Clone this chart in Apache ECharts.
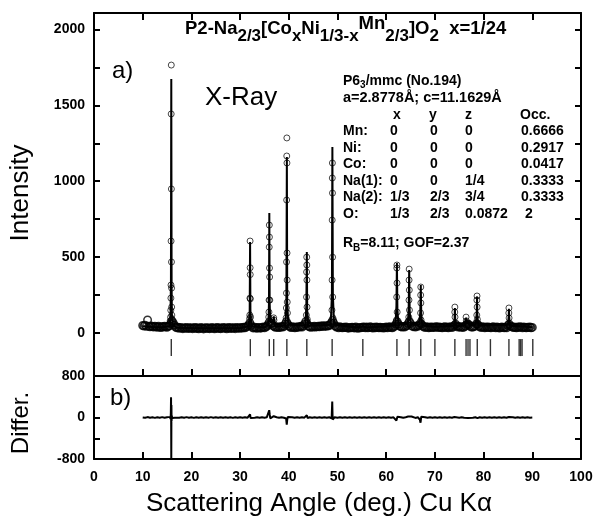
<!DOCTYPE html>
<html>
<head>
<meta charset="utf-8">
<script src="https://cdn.jsdelivr.net/npm/echarts@6/dist/echarts.min.js"></script>
<style>
html, body { margin: 0; padding: 0; background: #fff; }
#chart { width: 593px; height: 521px; }
</style>
</head>
<body>
<div id="chart"></div>
<script>
// observed background, read every 0.25 deg from 10 to 90
const bgStart = 10, bgStep = 0.25;
const obsBackground = [
  50,46,52,44,86,45,41,47,43,39,45,42,38,44,40,36,43,39,45,41,
  38,44,48,62,80,68,52,40,34,38,31,36,33,29,35,32,36,30,34,31,
  35,29,33,37,30,34,28,32,36,31,27,33,35,30,34,29,32,36,31,28,
  33,37,30,35,29,32,36,31,34,28,33,37,30,35,31,34,29,36,32,35,
  31,36,33,38,34,40,44,52,66,50,38,33,38,35,31,37,34,32,36,39,
  35,40,44,56,72,60,64,50,42,38,41,36,40,37,43,39,45,58,74,60,
  48,40,36,41,38,35,40,37,42,39,44,40,48,60,76,62,46,41,38,43,
  40,44,39,42,45,41,46,43,48,44,47,45,50,48,56,68,82,64,48,40,
  39,35,41,37,34,38,36,40,35,32,37,34,38,36,33,39,35,31,37,34,
  36,40,38,35,39,34,37,41,36,33,38,35,40,36,34,38,35,37,33,36,
  39,35,38,41,37,34,40,46,58,74,58,46,42,39,43,40,44,50,62,76,
  62,48,42,45,40,46,44,52,64,58,46,40,37,41,38,35,39,36,40,37,
  38,42,39,36,40,37,34,38,41,36,39,35,38,42,37,40,50,58,46,40,
  42,38,41,37,40,46,56,60,54,44,40,39,42,46,60,58,46,40,37,41,
  38,35,39,36,40,37,34,38,41,37,35,39,36,33,37,40,36,34,38,35,
  50,58,46,42,37,40,36,34,39,37,41,38,35,40,37,34,38,36,39,35,
  37
];

// observed points on the peaks [2theta, intensity]
const obsPeaks = [
  [15.65,80],[15.72,104],[15.76,150],[15.79,230],[15.81,316],[15.83,606],[15.85,1443],[15.87,1765],
  [15.89,949],[15.91,468],[15.93,296],[15.95,171],[15.98,118],[16.03,90],[16.1,70],
  [31.95,95],[31.99,118],[32.02,230],[32.05,606],[32.06,430],[32.08,385],[32.1,225],[32.14,105],
  [35.88,105],[35.92,138],[35.95,217],[35.98,566],[36.0,711],[36.02,632],[36.04,428],[36.06,369],[36.1,217],
  [36.9,100],[36.95,85],
  [39.46,100],[39.5,165],[39.52,263],[39.54,468],[39.56,876],[39.58,1166],[39.6,1285],[39.62,1120],
  [39.64,527],[39.66,349],[39.68,204],[39.72,132],
  [43.6,118],[43.64,237],[43.66,402],[43.68,500],[43.7,448],[43.72,349],[43.74,171],[43.8,90],
  [48.86,151],[48.89,349],[48.91,744],[48.93,1021],[48.95,1120],[48.97,922],[48.99,500],[49.01,237],[49.05,100],
  [62.12,86],[62.16,237],[62.18,428],[62.2,448],[62.22,329],[62.25,138],
  [64.64,105],[64.68,217],[64.7,349],[64.72,421],[64.74,283],[64.77,151],
  [67.06,132],[67.08,250],[67.1,303],[67.12,198],[67.15,86],
  [74.08,138],[74.1,171],[74.13,105],
  [76.4,105],[76.45,80],
  [78.6,118],[78.62,217],[78.65,244],[78.67,171],[78.72,90],
  [85.18,132],[85.2,165],[85.23,99]
];

// calculated profile [2theta, intensity]
const calcProfile = [
  [10,45],[12,40],[14,38],[15.5,45],[15.7,90],[15.8,350],[15.84,1200],[15.87,1673],[15.9,1050],[15.94,300],
  [16.0,120],[16.2,55],[17,35],[20,33],[25,32],[30,33],[31.8,45],[31.97,150],[32.05,600],[32.12,150],[32.3,45],
  [35,36],[35.8,60],[35.93,200],[36.0,790],[36.07,200],[36.2,70],[36.85,80],[36.92,110],[37.0,70],[37.3,42],
  [39.3,50],[39.5,200],[39.6,1160],[39.68,200],[39.9,55],[43.4,50],[43.6,180],[43.7,534],[43.78,150],[44.0,48],
  [48.6,55],[48.85,250],[48.95,1225],[49.05,250],[49.3,55],[54,36],[55.2,45],[56,36],
  [61.9,50],[62.1,180],[62.2,461],[62.3,160],[62.5,55],[64.45,60],[64.62,170],[64.72,415],[64.82,150],[65.0,55],
  [66.8,55],[67.0,140],[67.1,316],[67.2,130],[67.4,50],[70,42],[73.9,48],[74.05,100],[74.1,165],[74.18,90],[74.4,45],
  [76.2,50],[76.4,100],[76.6,60],[76.9,75],[77.1,50],[78.4,55],[78.58,130],[78.65,240],[78.72,120],[78.9,50],
  [85.0,55],[85.15,110],[85.2,160],[85.27,100],[85.45,48],[87.3,45],[88,44],[90,38]
];

// Bragg reflection positions (2theta)
const braggPositions = [15.87,32.1,36.0,36.9,39.6,43.7,48.9,55.2,62.2,64.7,67.1,70.0,74.1,
  76.4,76.8,77.2,78.7,81.4,85.2,87.3,87.6,87.9,90.1];

// difference curve [2theta, diff]
const diffCurve = [
  [10,0],[10.5,-6],[11,8],[11.5,-4],[12,5],[12.5,-7],[13,6],[13.5,-3],[14,7],[14.5,-5],[15,4],[15.4,-8],
  [15.6,12],[15.72,-30],[15.78,90],[15.82,390],[15.85,-200],[15.87,-820],[15.9,240],[15.93,-70],[15.97,30],
  [16.05,-10],[16.3,6],[16.6,-5],[17,4],[17.5,-6],[18,5],[18.5,-4],[19,7],[19.5,-5],[20,3],[20.5,-7],[21,6],
  [21.5,-3],[22,5],[22.5,-6],[23,4],[23.5,-5],[24,7],[24.5,-4],[25,3],[25.5,-6],[26,5],[26.5,-3],[27,6],
  [27.5,-5],[28,4],[28.5,-7],[29,5],[29.5,-4],[30,6],[30.5,-3],[31,5],[31.5,-6],[31.9,10],[32.05,60],
  [32.15,-10],[32.5,6],[33,-5],[33.5,4],[34,-6],[34.5,5],[35,-4],[35.5,6],[35.85,30],[35.98,140],[36.08,60],
  [36.2,-15],[36.6,5],[36.9,25],[37.1,-8],[37.5,4],[38,-6],[38.5,5],[39,-4],[39.45,-20],[39.58,-140],
  [39.68,-40],[39.8,10],[40.2,-5],[40.7,6],[41.2,-4],[41.7,5],[42.2,-6],[42.7,4],[43.2,-3],[43.55,25],
  [43.7,45],[43.85,-10],[44.3,5],[44.8,-6],[45.3,4],[45.8,-5],[46.3,6],[46.8,-4],[47.3,5],[47.8,-6],
  [48.3,4],[48.8,-15],[48.92,310],[49.0,-40],[49.1,-15],[49.4,5],[50,-4],[50.5,6],[51,-5],[51.5,4],
  [52,-6],[52.5,5],[53,-3],[53.5,6],[54,-5],[54.5,4],[55,-6],[55.5,5],[56,-4],[56.5,6],[57,-5],[57.5,3],
  [58,-6],[58.5,5],[59,-4],[59.5,6],[60,-3],[60.5,5],[61,-6],[61.5,4],[61.9,5],[62.1,-60],[62.3,15],
  [62.6,-5],[63,4],[63.5,-6],[64,5],[64.5,18],[64.7,35],[64.9,-15],[65.2,20],[65.6,10],[66,-8],[66.5,5],
  [66.9,-40],[67.05,-100],[67.2,15],[67.6,-5],[68,6],[68.5,-4],[69,5],[69.5,-6],[70,4],[70.5,-5],[71,6],
  [71.5,-4],[72,5],[72.5,-6],[73,3],[73.5,-5],[74,8],[74.1,-15],[74.4,6],[75,-4],[75.5,5],[76,-6],[76.4,10],
  [76.8,-8],[77.2,5],[77.8,-4],[78.3,5],[78.6,15],[78.75,-12],[79.2,4],[79.7,-6],[80.2,5],[80.7,-4],
  [81.2,6],[81.7,-5],[82.2,4],[82.7,-6],[83.2,5],[83.7,-3],[84.2,6],[84.7,-5],[85.2,10],[85.5,-6],
  [86,4],[86.5,-5],[87,6],[87.5,-4],[88,5],[88.5,-6],[89,4],[89.5,-3],[90,0]
];

const intensityLabels = [0, 500, 1000, 1500, 2000];
const intensityTicks = [0, 250, 500, 750, 1000, 1250, 1500, 1750, 2000];
const diffLabels = [-800, 0, 800];
const diffTicks = [-800, -400, 0, 400, 800];

// refinement table
const siteNames = ['Mn:', 'Ni:', 'Co:', 'Na(1):', 'Na(2):', 'O:'];
const siteX = ['0', '0', '0', '0', '1/3', '1/3'];
const siteY = ['0', '0', '0', '0', '2/3', '2/3'];
const siteZ = ['0', '0', '0', '1/4', '3/4', '0.0872'];
const siteOcc = ['0.6666', '0.2917', '0.0417', '0.3333', '0.3333', ' 2'];

// ---- text helpers ----
const FAMILY = '"Liberation Sans", Arial, sans-serif';
const measureCtx = document.createElement('canvas').getContext('2d');
function textWidth(str, size, weight) {
  measureCtx.font = weight + ' ' + size + 'px ' + FAMILY;
  return measureCtx.measureText(str).width;
}
function txt(str, x, baseline, size, weight, extra) {
  const el = {
    type: 'text', x: x, y: baseline - 0.35 * size, silent: true,
    style: {
      text: str, fill: '#000', fontSize: size, fontWeight: weight, fontFamily: FAMILY,
      align: 'left', textAlign: 'left', verticalAlign: 'middle', textVerticalAlign: 'middle'
    }
  };
  return Object.assign(el, extra || {});
}
// parts: [text, size, dy]
function run(x, baseline, parts) {
  const out = [];
  parts.forEach(p => {
    out.push(txt(p[0], x, baseline + p[2], p[1], 'bold'));
    x += textWidth(p[0], p[1], 'bold');
  });
  return out;
}

const graphics = [];
graphics.push(...run(185, 35, [
  ['P2-Na', 18.5, 0], ['2/3', 17, 7], ['[Co', 18.5, 0], ['x', 17, 7], ['Ni', 18.5, 0], ['1/3-x', 17, 7],
  ['Mn', 18.5, -5], ['2/3', 17, 7], [']O', 18.5, 0], ['2', 17, 7], ['  x=1/24', 18.5, 0]
]));
graphics.push(...run(343, 86, [['P6', 14, 0], ['3', 10, 3], ['/mmc (No.194)', 14, 0]]));
graphics.push(txt('a=2.8778\u00c5; c=11.1629\u00c5', 343, 103, 14.5, 'bold'));
graphics.push(txt('x', 393, 120, 14, 'bold'));
graphics.push(txt('y', 429, 120, 14, 'bold'));
graphics.push(txt('z', 465, 120, 14, 'bold'));
graphics.push(txt('Occ.', 520, 120, 14, 'bold'));
siteNames.forEach((name, i) => {
  const b = 136 + i * 16.6;
  graphics.push(txt(name, 343, b, 14, 'bold'));
  graphics.push(txt(siteX[i], 390, b, 14, 'bold'));
  graphics.push(txt(siteY[i], 430, b, 14, 'bold'));
  graphics.push(txt(siteZ[i], 465, b, 14, 'bold'));
  graphics.push(txt(siteOcc[i], 521, b, 14, 'bold'));
});
graphics.push(...run(343, 248, [['R', 14, 0], ['B', 10, 4], ['=8.11; GOF=2.37', 14, 0]]));
graphics.push(txt('X-Ray', 205, 107, 26, 'normal'));
graphics.push(txt('a)', 112, 80, 24, 'normal'));
graphics.push(txt('b)', 110, 407, 24, 'normal'));
graphics.push(txt('Scattering Angle (deg.) Cu K\u03b1', 146, 513, 26, 'normal'));
graphics.push({
  type: 'text', x: 21, y: 193, rotation: Math.PI / 2, silent: true,
  style: { text: 'Intensity', fill: '#000', fontSize: 26, fontFamily: FAMILY,
    align: 'center', textAlign: 'center', verticalAlign: 'middle', textVerticalAlign: 'middle' }
});
graphics.push({
  type: 'text', x: 21, y: 423, rotation: Math.PI / 2, silent: true,
  style: { text: 'Differ.', fill: '#000', fontSize: 24, fontFamily: FAMILY,
    align: 'center', textAlign: 'center', verticalAlign: 'middle', textVerticalAlign: 'middle' }
});

// ---- chart ----
const axisLine = { show: true, onZero: false, lineStyle: { color: '#000', width: 2 } };
const labelStyle = { color: '#000', fontSize: 14, fontWeight: 'bold', fontFamily: FAMILY,
  formatter: v => String(v) };

function xAx(grid, pos, labels) {
  return {
    type: 'value', gridIndex: grid, position: pos, min: 0, max: 100, interval: 10,
    axisLine: axisLine, splitLine: { show: false },
    axisTick: { show: true, inside: true, length: 7, lineStyle: { color: '#000', width: 2 } },
    axisLabel: labels ? Object.assign({ show: true, margin: 11 }, labelStyle) : { show: false }
  };
}
function yAx(grid, pos, min, max, labelVals, tickVals, labels) {
  return {
    type: 'value', gridIndex: grid, position: pos, min: min, max: max,
    axisLine: axisLine, splitLine: { show: false },
    axisTick: { show: true, inside: true, length: 6, customValues: tickVals, lineStyle: { color: '#000', width: 2 } },
    axisLabel: labels ? Object.assign({ show: true, margin: 9, customValues: labelVals }, labelStyle)
                      : { show: false, customValues: labelVals }
  };
}

const braggLevel = -96;

const option = {
  animation: false,
  backgroundColor: '#fff',
  grid: [
    { left: 94, right: 12, top: 13, height: 363, outerBoundsMode: 'none' },
    { left: 94, right: 12, top: 376, height: 83, outerBoundsMode: 'none' }
  ],
  xAxis: [xAx(0, 'bottom', false), xAx(0, 'top', false), xAx(1, 'bottom', true),
    Object.assign(xAx(1, 'top', false), { axisTick: { show: false } })],
  yAxis: [
    yAx(0, 'left', -283, 2108, intensityLabels, intensityTicks, true),
    yAx(0, 'right', -283, 2108, intensityLabels, intensityTicks, false),
    yAx(1, 'left', -800, 800, diffLabels, diffTicks, true),
    yAx(1, 'right', -800, 800, diffLabels, diffTicks, false)
  ],
  series: [
    {
      name: 'obs', type: 'scatter', xAxisIndex: 0, yAxisIndex: 0, symbol: 'circle', symbolSize: 7.5,
      itemStyle: { color: 'rgba(0,0,0,0)', borderColor: '#000', borderWidth: 1.5 }, silent: true,
      data: obsBackground.map((v, i) => [bgStart + i * bgStep, v])
    },
    {
      name: 'obs peaks', type: 'scatter', xAxisIndex: 0, yAxisIndex: 0, symbol: 'circle', symbolSize: 6,
      itemStyle: { color: 'rgba(0,0,0,0)', borderColor: '#000', borderWidth: 0.9 }, silent: true, data: obsPeaks
    },
    {
      name: 'calc', type: 'line', xAxisIndex: 0, yAxisIndex: 0, showSymbol: false, silent: true,
      lineStyle: { color: '#000', width: 2 }, data: calcProfile
    },
    {
      name: 'bragg', type: 'scatter', xAxisIndex: 0, yAxisIndex: 0, symbol: 'rect', symbolSize: [1.4, 17],
      itemStyle: { color: '#000' }, silent: true,
      data: braggPositions.map(p => [p, braggLevel])
    },
    {
      name: 'diff', type: 'line', xAxisIndex: 2, yAxisIndex: 2, showSymbol: false, silent: true,
      lineStyle: { color: '#000', width: 2 }, data: diffCurve
    }
  ],
  graphic: graphics
};

const chart = echarts.init(document.getElementById('chart'), null, { renderer: 'canvas' });
chart.setOption(option);
</script>
</body>
</html>
